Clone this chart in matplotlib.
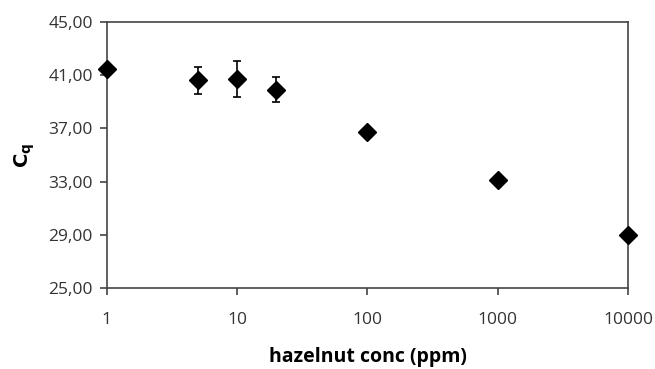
import matplotlib
matplotlib.use("Agg")
import matplotlib.pyplot as plt
from matplotlib.ticker import FixedLocator, FixedFormatter, NullLocator

conc = [1, 5, 10, 20, 100, 1000, 10000]
cq = [41.5, 40.6, 40.7, 39.9, 36.7, 33.1, 29.0]
cq_err = [0.0, 1.0, 1.35, 0.95, 0.0, 0.3, 0.0]
xticks = [1, 10, 100, 1000, 10000]
xtick_labels = ["1", "10", "100", "1000", "10000"]
yticks = [25, 29, 33, 37, 41, 45]
ytick_labels = ["25,00", "29,00", "33,00", "37,00", "41,00", "45,00"]

plt.rcParams['font.family'] = ['Open Sans', 'DejaVu Sans']

fig = plt.figure(figsize=(6.55, 3.69), dpi=100)
ax = fig.add_axes([0.163, 0.2195, 0.796, 0.721])
ax.errorbar(conc, cq, yerr=cq_err, fmt='D', color='black', markersize=9.5,
            ecolor='black', elinewidth=1.2, capsize=3, capthick=1.2, zorder=3,
            clip_on=False)
ax.set_xscale('log')
ax.set_xlim(1, 10000)
ax.set_ylim(25, 45)
ax.xaxis.set_major_locator(FixedLocator(xticks))
ax.xaxis.set_major_formatter(FixedFormatter(xtick_labels))
ax.xaxis.set_minor_locator(NullLocator())
ax.set_yticks(yticks)
ax.set_yticklabels(ytick_labels)
for s in ax.spines.values():
    s.set_color('#444444')
    s.set_linewidth(1.2)
ax.tick_params(axis='both', direction='out', length=5, width=1.2, color='#444444',
               labelsize=12.5, labelcolor='#333333')
ax.tick_params(axis='x', pad=12)
ax.tick_params(axis='y', pad=5)
ax.set_xlabel('hazelnut conc (ppm)', fontsize=14, fontweight='bold', labelpad=14)
ax.set_ylabel(r'$\mathbf{C_q}$', fontsize=14, labelpad=8)
fig.savefig('out.png', dpi=100)
